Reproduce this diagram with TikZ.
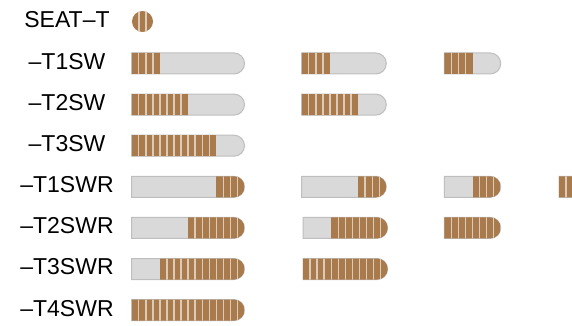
\documentclass[tikz,border=0pt]{standalone}
\usepackage{fontspec}
\setmainfont{Liberation Sans}
\usetikzlibrary{positioning}

\definecolor{pillbrown}{HTML}{A97A4B}
\definecolor{pillgray}{HTML}{D9D9D9}
\definecolor{pilledge}{HTML}{BEBEBE}
\definecolor{stripeline}{HTML}{DCCBB8}

\newcommand{\unitw}{7.05}
% #1 left x, #2 row y, #3 units, #4 brown from, #5 brown to
\newcommand{\pillbar}[5]{%
  \pgfmathsetmacro{\pend}{#1+#3*\unitw}%
  \pgfmathsetmacro{\bfrom}{#1+#4*\unitw}%
  \pgfmathsetmacro{\bto}{#1+#5*\unitw}%
  \filldraw[pillbody] (#1,#2-10.5) -- (\pend-10.5,#2-10.5)
    arc[start angle=-90,end angle=90,radius=10.5] -- (#1,#2+10.5) -- cycle;
  \begin{scope}
    \clip (#1,#2-10.5) -- (\pend-10.5,#2-10.5)
      arc[start angle=-90,end angle=90,radius=10.5] -- (#1,#2+10.5) -- cycle;
    \fill[pillbrown] (\bfrom,#2-12) rectangle (\bto,#2+12);
    \pgfmathtruncatemacro{\sa}{#4+1}%
    \pgfmathtruncatemacro{\sb}{#5-1}%
    \foreach \k in {\sa,...,\sb}
      \draw[stripe] (#1+\k*\unitw,#2-12) -- (#1+\k*\unitw,#2+12);
  \end{scope}%
}

\begin{document}
\begin{tikzpicture}[
    x=1pt, y=-1pt,
    rowname/.style={font=\fontsize{23}{23}\selectfont, inner sep=0pt},
    pillbody/.style={fill=pillgray, draw=pilledge, line width=1pt},
    stripe/.style={draw=stripeline, line width=1.4pt},
  ]
  \clip (0,0) rectangle (572,326);

  % --- row names ---
  \node[rowname] (seat) at (67,19.5)  {SEAT–T};
  \node[rowname] (t1sw) at (67,61.5)  {–T1SW};
  \node[rowname] (t2sw) at (67,102.6) {–T2SW};
  \node[rowname] (t3sw) at (67,143.7) {–T3SW};
  \node[rowname] (t1swr) at (67,184.8) {–T1SWR};
  \node[rowname] (t2swr) at (67,225.9) {–T2SWR};
  \node[rowname] (t3swr) at (67,267)  {–T3SWR};
  \node[rowname] (t4swr) at (67,308.1) {–T4SWR};

  % --- seat ---
  \fill[pillbrown] (142.5,21.5) circle (10.5);
  \begin{scope}
    \clip (142.5,21.5) circle (10.5);
    \draw[stripe] (139.1,10) -- (139.1,33);
    \draw[stripe] (146.1,10) -- (146.1,33);
  \end{scope}

  % --- SW rows ---
  \pillbar{131.7}{63.5}{16}{0}{4}
  \pillbar{301.7}{63.5}{12}{0}{4}
  \pillbar{444.3}{63.5}{8}{0}{4}
  \pillbar{131.7}{104.6}{16}{0}{8}
  \pillbar{301.7}{104.6}{12}{0}{8}
  \pillbar{131.7}{145.7}{16}{0}{12}

  % --- SWR rows ---
  \pillbar{131.7}{186.8}{16}{12}{16}
  \pillbar{301.7}{186.8}{12}{8}{12}
  \pillbar{444.3}{186.8}{8}{4}{8}
  \pillbar{559}{186.8}{4}{0}{4}
  \pillbar{131.7}{227.9}{16}{8}{16}
  \pillbar{303}{227.9}{12}{4}{12}
  \pillbar{444.3}{227.9}{8}{0}{8}
  \pillbar{131.7}{269}{16}{4}{16}
  \pillbar{303}{269}{12}{0}{12}
  \pillbar{131.7}{310.1}{16}{0}{16}
\end{tikzpicture}
\end{document}
